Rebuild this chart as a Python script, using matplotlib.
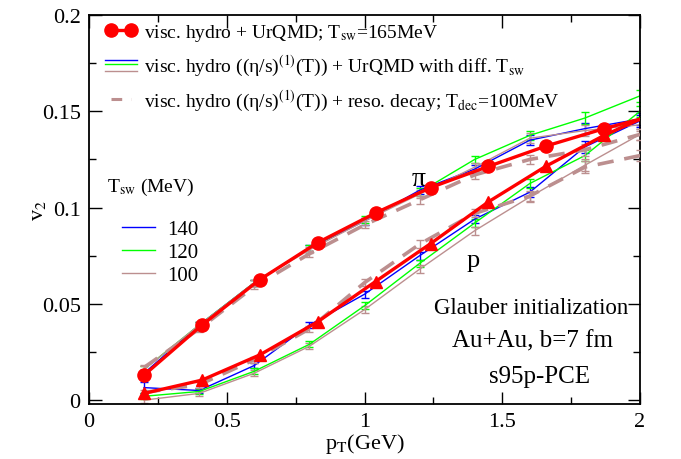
import matplotlib
matplotlib.use("Agg")
import matplotlib.pyplot as plt
from matplotlib.lines import Line2D
from matplotlib.legend_handler import HandlerBase
from matplotlib.ticker import MultipleLocator, FixedFormatter, FixedLocator

plt.rcParams['font.family'] = ['Liberation Serif', 'DejaVu Serif']
plt.rcParams['mathtext.fontset'] = 'stix'

# hydro + UrQMD, T_sw = 165 MeV (red)
pt_red = [0.2, 0.41, 0.62, 0.83, 1.04, 1.24, 1.45, 1.66, 1.87, 2.08]
pion_red = [0.013, 0.039, 0.0626, 0.0818, 0.0972, 0.1104, 0.1214, 0.132, 0.141, 0.149]
prot_red = [0.0035, 0.0104, 0.0235, 0.0407, 0.0616, 0.0813, 0.103, 0.1216, 0.1375, 0.151]

# (eta/s)(T) + UrQMD with different T_sw
pt = [0.2, 0.4, 0.6, 0.8, 1.0, 1.2, 1.4, 1.6, 1.8, 2.0]
pion_140 = [0.014, 0.039, 0.061, 0.079, 0.093, 0.109, 0.120, 0.135, 0.141, 0.146]
pion_120 = [0.016, 0.039, 0.061, 0.079, 0.094, 0.108, 0.125, 0.1375, 0.1465, 0.158]
pion_100 = [0.016, 0.039, 0.061, 0.078, 0.093, 0.107, 0.121, 0.136, 0.140, 0.143]
prot_140 = [0.0065, 0.005, 0.018, 0.039, 0.055, 0.075, 0.094, 0.108, 0.1315, 0.145]
prot_120 = [0.002, 0.0045, 0.015, 0.029, 0.049, 0.071, 0.092, 0.1125, 0.127, 0.150]
prot_100 = [0.0, 0.0035, 0.014, 0.028, 0.047, 0.068, 0.088, 0.1055, 0.122, 0.138]
err_pion = [0.0015, 0.0015, 0.0015, 0.0015, 0.0018, 0.002, 0.002, 0.0025, 0.003, 0.003]
err_prot = [0.0015, 0.0015, 0.0015, 0.0015, 0.0018, 0.002, 0.002, 0.0025, 0.003, 0.003]
err_prot_140 = [0.003, 0.0015, 0.0015, 0.0015, 0.0018, 0.002, 0.002, 0.0025, 0.003, 0.003]

# (eta/s)(T) + resonance decays, T_dec = 100 MeV (dashed)
pion_dec = [0.017, 0.037, 0.059, 0.076, 0.091, 0.104, 0.117, 0.125, 0.130, 0.138]
prot_dec = [0.004, 0.008, 0.021, 0.037, 0.061, 0.081, 0.097, 0.106, 0.121, 0.127]

tsw_labels = ['140', '120', '100']

RED = '#ff0000'
BLUE = '#0000ff'
GREEN = '#00ff00'
BROWN = '#bc8f8f'


class HandlerStack(HandlerBase):
    def create_artists(self, legend, orig_handle, xdescent, ydescent,
                       width, height, fontsize, trans):
        arts = []
        for i, h in enumerate(orig_handle):
            y = height / 2 - ydescent + (1 - i) * 3.0 - (1.5 if i == 2 else 0)
            arts.append(Line2D([-xdescent, width - xdescent], [y, y],
                               color=h.get_color(), lw=h.get_linewidth(),
                               transform=trans))
        return arts


fig = plt.figure(figsize=(6.81, 4.60), dpi=100)
ax = fig.add_axes([0.1307, 0.1196, 0.8091, 0.8456])

thin = [(pion_140, prot_140, err_pion, err_prot_140, BLUE),
        (pion_120, prot_120, err_pion, err_prot, GREEN),
        (pion_100, prot_100, err_pion, err_prot, BROWN)]
for ypi, ypr, epi, epr, c in thin:
    for y, e in ((ypi, epi), (ypr, epr)):
        ax.errorbar(pt, y, yerr=e, color=c, lw=1.0, elinewidth=1.0,
                    capsize=3, capthick=1.0, zorder=2)

for y in (pion_dec, prot_dec):
    eb = ax.errorbar(pt, y, yerr=err_pion, color=BROWN, lw=2.6,
                     elinewidth=1.0, capsize=3, capthick=1.0, zorder=3)
    eb[0].set_dashes((4.5, 3.0))

ax.plot(pt_red, pion_red, color=RED, lw=2.4, marker='o', ms=9.5, zorder=5)
ax.plot(pt_red, prot_red, color=RED, lw=2.4, marker='^', ms=8, zorder=5)

ax.set_xlim(0, 2)
ax.set_ylim(-0.002, 0.2)
ax.xaxis.set_major_locator(FixedLocator([0, 0.5, 1, 1.5, 2]))
ax.xaxis.set_major_formatter(FixedFormatter(['0', '0.5', '1', '1.5', '2']))
ax.xaxis.set_minor_locator(MultipleLocator(0.25))
ax.yaxis.set_major_locator(FixedLocator([0, 0.05, 0.1, 0.15, 0.2]))
ax.yaxis.set_major_formatter(FixedFormatter(['0', '0.05', '0.1', '0.15', '0.2']))
ax.yaxis.set_minor_locator(MultipleLocator(0.025))
ax.tick_params(which='both', direction='in', top=True, right=True,
               labelsize=16, width=1.0, pad=6)
ax.tick_params(which='major', length=9)
ax.tick_params(which='minor', length=5)
for s in ax.spines.values():
    s.set_linewidth(1.3)

ax.set_xlabel(r'p$_\mathrm{T}$(GeV)', fontsize=16, labelpad=0)
ax.set_ylabel(r'v$_2$', fontsize=16)
ax.yaxis.set_label_coords(-0.075, 0.5)

# legends
h_red = Line2D([], [], color=RED, lw=2.4, marker='o', ms=9.5)
h_stack = (Line2D([], [], color=BLUE, lw=1.0),
           Line2D([], [], color=GREEN, lw=1.0),
           Line2D([], [], color=BROWN, lw=1.0))
h_dec = Line2D([], [], color=BROWN, lw=2.2, dashes=(3.5, 3.0))
leg1 = ax.legend([h_red, h_stack, h_dec],
                 [r'visc. hydro + UrQMD; T$_\mathrm{sw}$=165MeV',
                  r'visc. hydro ((η/s)$^{(1)}$(T)) + UrQMD with diff. T$_\mathrm{sw}$',
                  r'visc. hydro ((η/s)$^{(1)}$(T)) + reso. decay; T$_\mathrm{dec}$=100MeV'],
                 loc='upper left', bbox_to_anchor=(0.029, 0.982), frameon=False,
                 fontsize=14, handlelength=1.65, handletextpad=0.35,
                 labelspacing=0.5, borderpad=0.0, borderaxespad=0.0,
                 numpoints=2, handler_map={tuple: HandlerStack()})
ax.add_artist(leg1)

h_tsw = [Line2D([], [], color=c, lw=1.0) for c in (BLUE, GREEN, BROWN)]
ax.legend(h_tsw, tsw_labels, loc='upper left', bbox_to_anchor=(0.06, 0.475),
          frameon=False, fontsize=15, handlelength=1.6, handletextpad=0.58,
          labelspacing=0.17, borderpad=0.0, borderaxespad=0.0)
ax.text(0.033, 0.558, r'T$_\mathrm{sw}$ (MeV)', fontsize=14, ha='left',
        va='center', transform=ax.transAxes)

ax.text(1.195, 0.115, 'π', fontsize=20, ha='center', va='center')
ax.text(1.395, 0.073, 'p', fontsize=19, ha='center', va='center')
ax.text(1.605, 0.048, 'Glauber initialization', fontsize=16.5, ha='center', va='center')
ax.text(1.61, 0.031, 'Au+Au, b=7 fm', fontsize=18, ha='center', va='center')
ax.text(1.634, 0.0125, 's95p-PCE', fontsize=18, ha='center', va='center')

fig.savefig('out.png', dpi=100)
